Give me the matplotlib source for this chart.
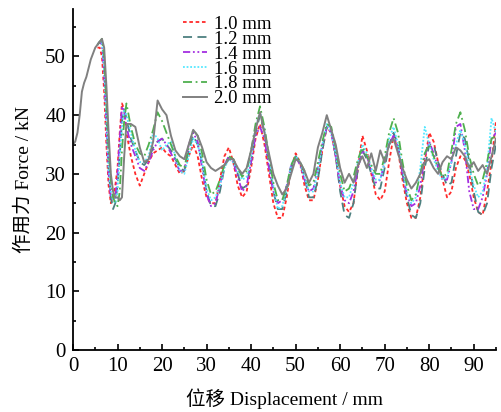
import matplotlib
matplotlib.use("Agg")
import matplotlib.pyplot as plt
from matplotlib.ticker import MultipleLocator

plt.rcParams['font.family'] = ['Liberation Serif', 'Noto Sans CJK SC']
plt.rcParams['font.size'] = 13

# displacement grid (mm) used by the 1.0-1.8 mm curves
disp = [5.5, 6, 6.5, 7, 7.5, 8, 8.5, 9, 9.5, 10, 10.5, 11, 11.5, 12,
        13, 14, 15, 16, 17, 18, 19, 20, 21, 22, 23, 24, 25, 26, 27, 28, 29, 30,
        31, 32, 33, 34, 35, 36, 37, 38, 39, 40, 41, 42, 43, 44, 45, 46, 47, 48,
        49, 50, 51, 52, 53, 54, 55, 56, 57, 58, 59, 60, 61, 62, 63, 64, 65, 66,
        67, 68, 69, 70, 71, 72, 73, 74, 75, 76, 77, 78, 79, 80, 81, 82, 83, 84,
        85, 86, 87, 88, 89, 90, 91, 92, 93, 94, 95]

f_10 = [51.5, 51.5, 50, 44, 35, 28, 25, 26, 28, 31, 37, 42, 41, 37,
        33, 30, 28, 30, 32, 33.5, 34, 34.5, 33.5, 33, 31.5, 30, 30.5, 33, 35, 33, 29, 26,
        25, 25, 29, 33, 34.5, 32, 28, 26, 27, 31, 36, 38.5, 35, 30, 25, 22.5, 22.5, 26,
        31, 33.5, 32, 28, 25.5, 25.5, 29, 34, 38, 37, 33, 28, 24.5, 23.5, 25, 31, 36.5, 34,
        30, 26.5, 25.5, 27, 32, 36.5, 34, 29, 25, 22.5, 22.5, 26, 32, 37, 35.5, 32, 29, 26,
        27, 31, 33, 32.5, 30, 26, 23.5, 23, 27, 32, 39]

f_12 = [52, 52.5, 52.5, 49, 40, 31, 26, 24, 25, 28, 33, 39, 41, 39.5,
        36, 34, 32, 31.5, 32.5, 34.5, 35.5, 36, 35, 34, 32.5, 31, 30.5, 34, 36.5, 35, 32, 27,
        24.5, 24.5, 27, 31, 33, 32.5, 30, 27.5, 28, 32, 37, 40, 37, 32, 27, 24, 24, 27,
        31, 33, 32, 29.5, 26, 26, 29, 34, 38, 37.5, 33, 27, 23, 22.5, 25, 31, 34, 32.5,
        30, 27.5, 27.5, 31, 35, 37, 35, 30, 26, 23, 22.5, 25, 31, 35, 35, 32, 30, 28,
        28.5, 33, 37, 36, 32, 27, 23.5, 23, 25, 31, 35]

f_14 = [52, 52.5, 52, 47, 38, 30, 26, 25.5, 26, 30, 36, 41.5, 40.5, 38,
        35, 33, 31, 30.5, 32, 34, 35.5, 36, 35, 33.5, 32, 30.5, 30.5, 35, 37, 35.5, 31, 26.5,
        24.5, 25, 28, 31.5, 33, 32, 29.5, 27, 28, 32, 36.5, 38, 36, 31, 27, 25, 25.5, 28,
        31.5, 33, 31.5, 29, 27, 27.5, 31, 35, 38, 37, 33, 28, 25.5, 25, 27, 31, 34, 33,
        30.5, 28.5, 29, 32, 35, 36.5, 34.5, 30, 26.5, 24.5, 25, 28, 33, 35.5, 33.5, 31, 29, 29,
        32, 38, 38.5, 34, 27, 24, 24, 26, 30, 36, 37]

f_16 = [52, 52.5, 52.5, 48, 39, 31, 27, 25.5, 25, 27, 33, 38, 41, 40,
        37, 34, 32, 32, 33, 37, 36, 34, 35, 35.5, 33, 30.5, 30, 33, 36, 35, 32, 27.5,
        25.5, 26, 28, 31, 32.5, 32, 30.5, 29, 29.5, 33, 38, 40.5, 37.5, 33, 28, 24, 24.5, 27.5,
        31.5, 33, 32, 29.5, 27, 27, 30.5, 35, 38.5, 37, 33.5, 28.5, 26, 26, 28.5, 32, 35, 33.5,
        31, 29, 29, 32, 36, 38, 35, 31, 27, 25, 26, 31, 38, 35, 32.5, 30.5, 29, 29.5,
        32, 35, 37.5, 35, 31, 28, 26, 27, 31, 39.5, 37]

f_18 = [52, 52.5, 53, 50, 42, 34, 29, 26, 25, 24.5, 27, 34, 39, 42,
        38, 35, 33.5, 33, 35, 37.5, 40.5, 39, 37, 35, 33, 31.5, 31, 34.5, 37.5, 36.5, 33.5, 29,
        26.5, 27, 29, 31.5, 33, 32.5, 31, 29.5, 30.5, 34, 38.5, 41.5, 38, 33, 28.5, 25.5, 25.5, 28,
        31.5, 33, 32, 30.5, 28, 28.5, 32, 35.5, 38.5, 38, 34.5, 30, 27, 27.5, 29.5, 32.5, 34.5, 33,
        31.5, 30, 30, 33, 37, 39.5, 37, 32, 28, 25.5, 26.5, 30, 33.5, 35, 33, 31, 29.5, 30,
        34, 38.5, 40.5, 37.5, 33, 30, 28, 29, 32, 36, 36.5]

# the 2.0 mm curve starts at zero displacement
disp_20 = [0, 0.5, 1, 1.5, 2, 2.5, 3, 4, 5, 6, 6.5, 7, 7.5, 8, 8.5, 9, 9.5, 10,
           10.5, 11, 11.5, 12, 13, 14, 15, 16, 17, 18, 19, 20, 21, 22, 23, 24, 25,
           26, 27, 28, 29, 30, 31, 32, 33, 34, 35, 36, 37, 38, 39, 40, 41, 42, 43,
           44, 45, 46, 47, 48, 49, 50, 51, 52, 53, 54, 55, 56, 57, 58, 59, 60, 61,
           62, 63, 64, 65, 66, 67, 68, 69, 70, 71, 72, 73, 74, 75, 76, 77, 78, 79,
           80, 81, 82, 83, 84, 85, 86, 87, 88, 89, 90, 91, 92, 93, 94, 95]

f_20 = [35, 35.5, 37, 40, 44, 45.5, 46.5, 49.5, 51.5, 52.5, 53, 51.5, 45, 37, 30, 27, 26, 26,
        25.5, 26, 33, 38.5, 38.5, 38, 34.5, 32, 32.5, 35.5, 42.5, 41, 40, 36.5, 34, 33, 32.5,
        35, 37.5, 36.5, 34.5, 32, 31, 30.5, 31, 31.5, 32.5, 32.5, 31, 30, 31, 34, 37.5, 40.5, 37,
        33.5, 30, 28, 26.5, 27.5, 30, 32.5, 32, 30.5, 28.5, 30, 34.5, 37, 40, 37.5, 35, 31, 28.5,
        30, 28.5, 31.5, 33, 31, 33.5, 30.5, 34, 32, 35, 36, 33.5, 31, 29, 27.5, 28.5, 30, 32,
        32.5, 31, 30, 32, 33, 32.5, 34.5, 34, 33, 31, 32, 30.5, 31.5, 30, 33, 36]

labels = ['1.0 mm', '1.2 mm', '1.4 mm', '1.6 mm', '1.8 mm', '2.0 mm']

fig = plt.figure(figsize=(5.01, 4.12), dpi=100)
ax = fig.add_axes([0.1457, 0.1505, 0.8443, 0.8265])

ax.plot(disp, f_10, color='#ff2a2a', lw=1.3, ls=(0, (2, 1.5)), label=labels[0])
ax.plot(disp, f_12, color='#4d8080', lw=1.3, ls=(0, (5, 3)), label=labels[1])
ax.plot(disp, f_14, color='#a42fe0', lw=1.3, ls=(0, (4, 1.5, 1, 1.5, 1, 1.5)), label=labels[2])
ax.plot(disp, f_16, color='#55e8ff', lw=1.3, ls=(0, (1, 1)), label=labels[3])
ax.plot(disp, f_18, color='#4fb04f', lw=1.3, ls=(0, (5, 2, 1, 2)), label=labels[4])
ax.plot(disp_20, f_20, color='#808080', lw=1.4, label=labels[5])

ax.set_xlim(0, 95)
ax.set_ylim(0, 58)
ax.xaxis.set_major_locator(MultipleLocator(10))
ax.xaxis.set_minor_locator(MultipleLocator(5))
ax.yaxis.set_major_locator(MultipleLocator(10))
ax.yaxis.set_minor_locator(MultipleLocator(5))
ax.tick_params(which='major', direction='in', length=4, width=1.2, labelsize=15, pad=5)
ax.tick_params(which='minor', direction='in', length=2.5, width=1.2)
ax.spines['top'].set_visible(False)
ax.spines['right'].set_visible(False)
for s in ['left', 'bottom']:
    ax.spines[s].set_linewidth(1.3)

ax.set_xlabel('位移 Displacement / mm', fontsize=14, labelpad=9)
ax.set_ylabel('作用力 Force / kN', fontsize=14, labelpad=9)

ax.legend(loc='upper left', bbox_to_anchor=(0.228, 1.02), frameon=False, fontsize=13.5,
          handlelength=1.3, handletextpad=0.4, labelspacing=-0.12, borderpad=0.2)

fig.savefig('out.png', dpi=100)
